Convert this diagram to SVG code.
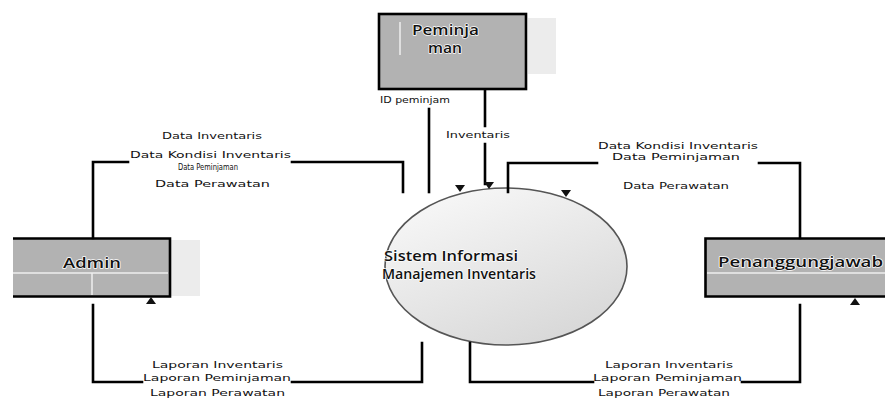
<svg xmlns="http://www.w3.org/2000/svg" xmlns:xlink="http://www.w3.org/1999/xlink" width="885" height="399" viewBox="0 0 885 399">
<style>
.ln{fill:none;stroke:#000;stroke-width:2.6;stroke-linecap:square}
.lbl{font-family:"DejaVu Sans","Liberation Sans",sans-serif;font-size:9.5px;fill:#111}
.box{fill:#b2b2b2}
.bord{fill:none;stroke:#000;stroke-width:2.6}
.sep{stroke:#eeeeee;stroke-width:1.5}
.bt{font-family:"Open Sans","DejaVu Sans",sans-serif;font-size:14px;font-weight:600;fill:#111;stroke:#fff;stroke-width:1.3;paint-order:stroke;stroke-linejoin:round}
.shadow{fill:#ececec}
.arr{fill:#111}
</style>
<defs>
<linearGradient id="g" x1="0" y1="0" x2="0.6" y2="1">
<stop offset="0" stop-color="#fbfbfb"/>
<stop offset="1" stop-color="#d9d9d9"/>
</linearGradient>
<path id="ad" d="M-5,0 L5,0 L0,7 Z"/>
<path id="au" d="M-5,0 L5,0 L0,-7 Z"/>
</defs>
<rect width="885" height="399" fill="#fff"/>

<g id="peminjaman">
<rect class="shadow" x="528" y="18" width="28" height="56"/>
<rect class="box" x="380" y="15" width="146" height="74"/>
<rect class="bord" x="379" y="14" width="147" height="75"/>
<line class="sep" x1="400" y1="22" x2="400" y2="55"/>
<text class="bt" x="412" y="35" font-size="12.5" textLength="67" lengthAdjust="spacingAndGlyphs">Peminja</text>
<text class="bt" x="428" y="53" font-size="12.5" textLength="34" lengthAdjust="spacingAndGlyphs">man</text>
</g>

<g id="admin">
<rect class="shadow" x="171" y="240" width="29" height="56"/>
<rect class="box" x="13" y="239" width="157" height="57"/>
<path class="bord" d="M13,238.5 H170 V296.5 H13"/>
<line class="sep" x1="13" y1="273" x2="168" y2="273"/>
<line class="sep" x1="92" y1="273" x2="92" y2="295"/>
<text class="bt" x="63" y="268" font-size="15" textLength="58" lengthAdjust="spacingAndGlyphs">Admin</text>
</g>

<g id="penanggungjawab">
<rect class="box" x="706" y="239" width="179" height="57"/>
<path class="bord" d="M890,238.5 H705.5 V296.5 H890"/>
<line class="sep" x1="707" y1="273" x2="885" y2="273"/>
<text class="bt" x="718" y="267" textLength="165" lengthAdjust="spacingAndGlyphs">Penanggungjawab</text>
</g>

<g id="sistem">
<ellipse cx="506" cy="266.5" rx="121" ry="78.5" fill="url(#g)" stroke="#555" stroke-width="1.6"/>
<text class="bt" x="384" y="261" font-size="13" font-weight="normal" textLength="134" lengthAdjust="spacingAndGlyphs">Sistem Informasi</text>
<text class="bt" x="382" y="279" font-size="13" font-weight="normal" textLength="154" lengthAdjust="spacingAndGlyphs">Manajemen Inventaris</text>
</g>

<g id="connectors">
<path class="ln" d="M93,238 V162 H128 M292,162 H403 V192"/>
<path class="ln" d="M93,305 V382 H142 M292,382 H422 V343"/>
<path class="ln" d="M429,109 V192"/>
<path class="ln" d="M485,90 V126 M485,144 V184"/>
<path class="ln" d="M508,192 V163 H597 M759,163 H800 V238"/>
<path class="ln" d="M800,305 V382 H742 M593,382 H470 V343"/>
<use href="#ad" xlink:href="#ad" class="arr" x="460" y="185"/>
<use href="#ad" xlink:href="#ad" class="arr" x="489" y="182"/>
<use href="#ad" xlink:href="#ad" class="arr" x="566" y="190"/>
<use href="#au" xlink:href="#au" class="arr" x="151" y="304"/>
<use href="#au" xlink:href="#au" class="arr" x="855" y="305"/>

<text class="lbl" x="380" y="103" textLength="70" lengthAdjust="spacingAndGlyphs">ID peminjam</text>
<text class="lbl" x="446" y="138" textLength="64" lengthAdjust="spacingAndGlyphs">Inventaris</text>

<text class="lbl" x="162" y="139" textLength="100" lengthAdjust="spacingAndGlyphs">Data Inventaris</text>
<text class="lbl" x="130" y="158" textLength="161" lengthAdjust="spacingAndGlyphs">Data Kondisi Inventaris</text>
<text class="lbl" x="178" y="170" font-size="5" textLength="60" lengthAdjust="spacingAndGlyphs">Data Peminjaman</text>
<text class="lbl" x="155" y="187" textLength="115" lengthAdjust="spacingAndGlyphs">Data Perawatan</text>

<text class="lbl" x="598" y="149" textLength="160" lengthAdjust="spacingAndGlyphs">Data Kondisi Inventaris</text>
<text class="lbl" x="612" y="160" textLength="128" lengthAdjust="spacingAndGlyphs">Data Peminjaman</text>
<text class="lbl" x="623" y="189" textLength="106" lengthAdjust="spacingAndGlyphs">Data Perawatan</text>

<text class="lbl" x="152" y="368" textLength="131" lengthAdjust="spacingAndGlyphs">Laporan Inventaris</text>
<text class="lbl" x="143" y="381" textLength="148" lengthAdjust="spacingAndGlyphs">Laporan Peminjaman</text>
<text class="lbl" x="150" y="396" textLength="135" lengthAdjust="spacingAndGlyphs">Laporan Perawatan</text>

<text class="lbl" x="605" y="368" textLength="128" lengthAdjust="spacingAndGlyphs">Laporan Inventaris</text>
<text class="lbl" x="593" y="381" textLength="149" lengthAdjust="spacingAndGlyphs">Laporan Peminjaman</text>
<text class="lbl" x="598" y="396" textLength="132" lengthAdjust="spacingAndGlyphs">Laporan Perawatan</text>
</g>
</svg>
